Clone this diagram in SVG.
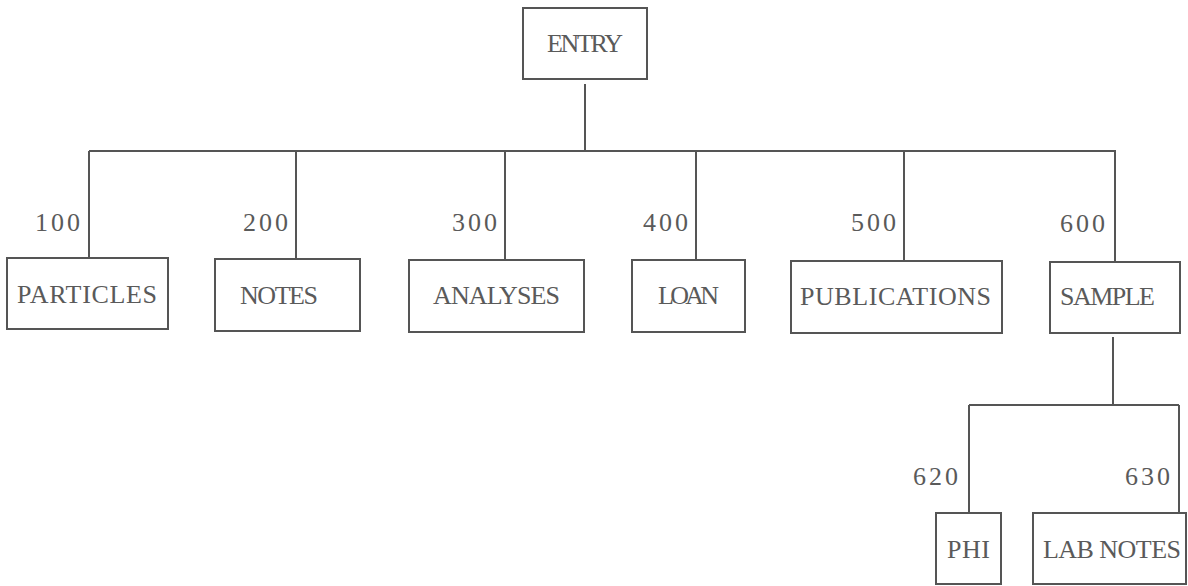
<svg xmlns="http://www.w3.org/2000/svg" width="1188" height="586" viewBox="0 0 1188 586">
<style>
.box{fill:none;stroke:#555;stroke-width:2}
.ln{fill:none;stroke:#555;stroke-width:2}
.t{font-family:"Liberation Serif","DejaVu Serif",serif;font-size:26px;fill:#5a5a5a}
.lb{font-family:"Liberation Serif","DejaVu Serif",serif;font-size:26px;fill:#5a5a5a}
</style>
<rect width="1188" height="586" fill="#fff"/>
<g id="connectors">
<path class="ln" d="M585 84V151M89 151H1116M89 151V258M296 151V259M505 151V260M696 151V260M904 151V261M1115 151V262"/>
<path class="ln" d="M1113 337V405M969 405H1179M969 405V513M1179 405V513"/>
<text class="lb" x="35" y="231" textLength="45" lengthAdjust="spacing">100</text>
<text class="lb" x="243" y="231" textLength="45" lengthAdjust="spacing">200</text>
<text class="lb" x="452" y="231" textLength="45" lengthAdjust="spacing">300</text>
<text class="lb" x="643" y="231" textLength="45" lengthAdjust="spacing">400</text>
<text class="lb" x="851" y="231" textLength="45" lengthAdjust="spacing">500</text>
<text class="lb" x="1060" y="232" textLength="45" lengthAdjust="spacing">600</text>
<text class="lb" x="913" y="485" textLength="45" lengthAdjust="spacing">620</text>
<text class="lb" x="1125" y="485" textLength="45" lengthAdjust="spacing">630</text>
</g>
<g id="entry"><rect class="box" x="523" y="8" width="124" height="71"/><text class="t" x="547" y="52" textLength="76" lengthAdjust="spacing">ENTRY</text></g>
<g id="particles"><rect class="box" x="7" y="258" width="161" height="71"/><text class="t" x="17" y="303" textLength="140" lengthAdjust="spacing">PARTICLES</text></g>
<g id="notes"><rect class="box" x="215" y="259" width="145" height="72"/><text class="t" x="240" y="304" textLength="78" lengthAdjust="spacing">NOTES</text></g>
<g id="analyses"><rect class="box" x="409" y="260" width="175" height="72"/><text class="t" x="433" y="304" textLength="127" lengthAdjust="spacing">ANALYSES</text></g>
<g id="loan"><rect class="box" x="632" y="260" width="113" height="72"/><text class="t" x="658" y="304" textLength="61" lengthAdjust="spacing">LOAN</text></g>
<g id="publications"><rect class="box" x="791" y="261" width="211" height="72"/><text class="t" x="800" y="305" textLength="191" lengthAdjust="spacing">PUBLICATIONS</text></g>
<g id="sample"><rect class="box" x="1050" y="262" width="130" height="71"/><text class="t" x="1060" y="305" textLength="95" lengthAdjust="spacing">SAMPLE</text></g>
<g id="phi"><rect class="box" x="936" y="513" width="65" height="71"/><text class="t" x="947" y="558" textLength="43" lengthAdjust="spacing">PHI</text></g>
<g id="labnotes"><rect class="box" x="1033" y="513" width="153" height="71"/><text class="t" x="1043" y="558" textLength="138" lengthAdjust="spacing">LAB NOTES</text></g>
</svg>
